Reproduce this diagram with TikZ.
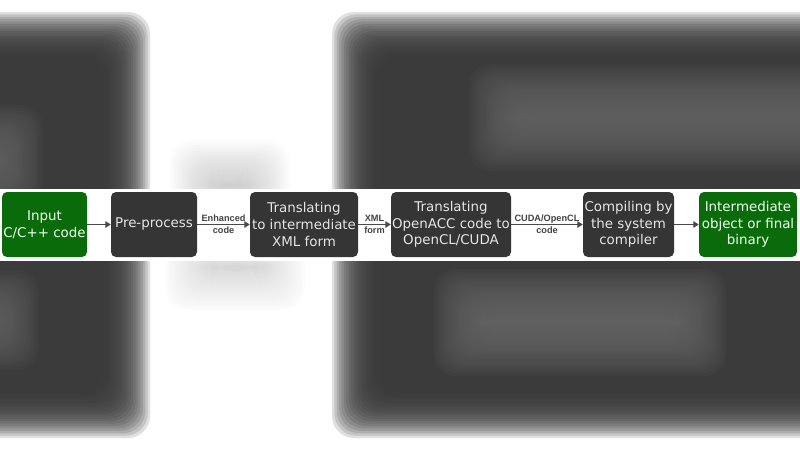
\documentclass[tikz,border=0pt]{standalone}
\usepackage{fontspec}
\setmainfont{DejaVu Sans}
\newfontfamily\labelfont{Liberation Sans}
\usetikzlibrary{arrows.meta}
\definecolor{boxdark}{HTML}{353535}
\definecolor{boxgreen}{HTML}{0A6B0A}
\definecolor{bgdark}{HTML}{383838}
\definecolor{bgmid}{HTML}{707070}
\definecolor{arrowgray}{HTML}{4A4A4A}
% #1 x1, #2 y1, #3 x2, #4 y2, #5 colour, #6 layer opacity, #7 step
\newcommand{\blurrect}[7]{%
  \foreach \k in {0,...,19}{%
    \fill[#5, fill opacity=#6, rounded corners=22pt]
      ({#1+(\k-10)*#7},{#2+(\k-10)*#7}) rectangle ({#3-(\k-10)*#7},{#4-(\k-10)*#7});
  }}
\tikzset{
  stepbox/.style={draw=none, fill=boxdark, rounded corners=5pt, text=white!90!black,
    align=center, font=\fontsize{13.4}{16.6}\selectfont, inner sep=0pt,
    minimum height=65pt},
  endbox/.style={stepbox, fill=boxgreen, text=green!6!white},
  flow/.style={draw=arrowgray, line width=1.3pt, -{Triangle[length=5.5pt,width=6.5pt]}},
  flowlabel/.style={font=\labelfont\bfseries\fontsize{9.2}{12}\selectfont, text=arrowgray!90!black, align=center, inner sep=0pt}
}
\begin{document}
\begin{tikzpicture}[x=1pt,y=-1pt]
\useasboundingbox (0,0) rectangle (800,450);
% blurred background
\fill[white] (0,0) rectangle (800,450);
\blurrect{-80}{36}{126}{414}{bgdark}{0.16}{2.4}
\blurrect{356}{36}{940}{414}{bgdark}{0.16}{2.4}
\blurrect{-60}{130}{18}{190}{bgmid}{0.07}{2.5}
\blurrect{-60}{295}{14}{345}{bgmid}{0.07}{2.5}
\blurrect{495}{90}{840}{145}{bgmid}{0.07}{2.6}
\blurrect{460}{295}{700}{350}{bgmid}{0.08}{2.6}
\blurrect{195}{165}{265}{205}{black!35}{0.03}{2.5}
\blurrect{190}{250}{280}{285}{black!35}{0.025}{2.5}
% white strip
\fill[white] (0,189) rectangle (800,261);
% boxes
\node[endbox, minimum width=85pt] (in) at (44.5,224.5) {Input\\C/C++ code};
\node[stepbox, minimum width=86pt] (pre) at (154,224.5) {Pre-process};
\node[stepbox, minimum width=108pt] (xml) at (304,224.5) {Translating\\to intermediate\\XML form};
\node[stepbox, minimum width=120pt] (acc) at (451,224.5) {Translating\\OpenACC code to\\OpenCL/CUDA};
\node[stepbox, minimum width=91pt] (cmp) at (628.5,224.5) {Compiling by\\the system\\compiler};
\node[endbox, minimum width=98pt] (out) at (748,224.5) {Intermediate\\object or final\\binary};
% connectors
\draw[flow] (in) -- (pre);
\draw[flow] (pre) -- node[flowlabel] (l1) {Enhanced\\code} (xml);
\draw[flow] (xml) -- node[flowlabel] (l2) {XML\\form} (acc);
\draw[flow] (acc) -- node[flowlabel] (l3) {CUDA/OpenCL\\code} (cmp);
\draw[flow] (cmp) -- (out);
\end{tikzpicture}
\end{document}
